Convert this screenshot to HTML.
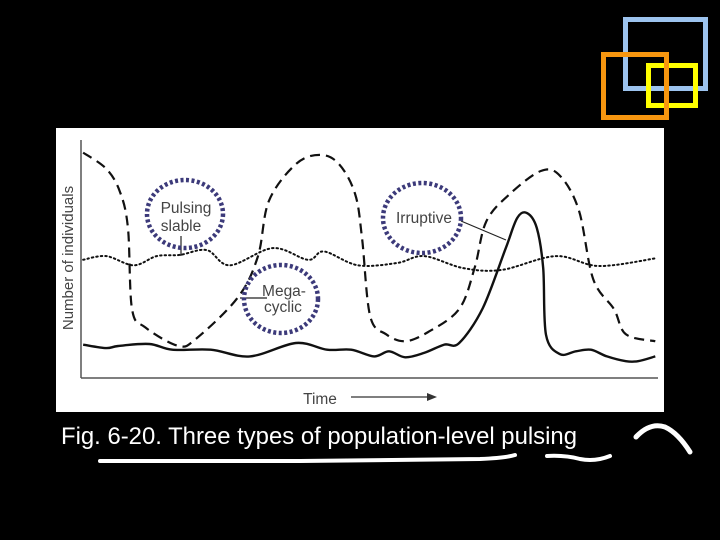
<!DOCTYPE html>
<html><head><meta charset="utf-8"><style>
html,body{margin:0;padding:0;background:#000;width:720px;height:540px;overflow:hidden}
svg{display:block}
</style></head><body>
<svg width="720" height="540" viewBox="0 0 720 540" xmlns="http://www.w3.org/2000/svg">
<rect x="0" y="0" width="720" height="540" fill="#000"/>
<g>
<rect x="625.5" y="19.5" width="80" height="69" fill="none" stroke="#9cc3ee" stroke-width="5"/>
<rect x="648.5" y="65.5" width="47" height="40" fill="none" stroke="#ffff00" stroke-width="5"/>
<rect x="603.5" y="54.5" width="63" height="63" fill="none" stroke="#f7960f" stroke-width="5"/>
</g>
<rect x="56" y="128" width="608" height="284" fill="#fff"/>
<g id="chart"></g>
<text x="61" y="444" font-family="Liberation Sans, sans-serif" font-size="23.8" fill="#fff" textLength="516" lengthAdjust="spacingAndGlyphs">Fig. 6-20. Three types of population-level pulsing</text>
<g fill="none" stroke="#fff" stroke-linecap="round">
<path d="M100,461 L300,461 L480,459 Q505,458 515,455" stroke-width="4"/>
<path d="M547,456 Q565,455 580,459 Q595,462 610,456" stroke-width="4"/>
<path d="M636,437 Q650,422 665,427 Q678,433 690,452" stroke-width="5"/>
</g>
</svg>
<script>
const dashedT=[0.2,4.2,6.6,8,8.7,11,16.7,19.8,27.1,30.6,32.5,37.2,41.4,44.7,47.5,48.7,50.1,52.9,56.2,60.2,65.6,68.3,70.3,74.4,79.8,83.1,86.4,88.9,92.5,94.6,99.7];
const dashedV=[98,91,81,65,30,22,14,17,35,53,77,93,97,93,80,61,27,19,16,20,30,48,68,80,90,88,73,43,30,19,16];
const dottedT=[0.2,4.2,9.0,13.0,17.0,21.7,25.7,33.2,39.3,42.1,48.0,54.8,59.5,66.3,73.0,82.4,89.9,99.7];
const dottedV=[51.4,53,49,53,53.5,55.6,49,56.5,51.4,55,49,50,53,47.8,47,53,48.7,52];
const solidT=[0.2,4.2,6.3,11.7,15.7,22.4,29.2,37.2,42.6,46.8,50.8,53.4,56.2,59.5,63,65.6,69.7,73.7,75.7,77.4,79.1,80.2,80.7,83.1,85.9,88.5,91.3,94.6,96.7,99.7];
const solidV=[14.5,13,13.9,14.8,12.3,12.3,9.4,15.2,12.3,12.3,9.4,11.6,9,10.9,14.5,15.2,30.4,56.5,69.6,71.7,65.2,47.8,18.8,10.4,11.6,12.3,9.4,7.3,7.3,9.4];
const X=t=>82+t*5.75, Y=v=>378-v*2.3;
const NS='http://www.w3.org/2000/svg';
const g=document.getElementById('chart');
function mk(tag,attrs){const e=document.createElementNS(NS,tag);for(const k in attrs)e.setAttribute(k,attrs[k]);g.appendChild(e);return e;}
function smooth(T,V){const p=T.map((t,i)=>[X(t),Y(V[i])]);let d='M'+p[0][0]+','+p[0][1];
for(let i=0;i<p.length-1;i++){const p0=p[i-1]||p[i],p1=p[i],p2=p[i+1],p3=p[i+2]||p2;
const c1=[p1[0]+(p2[0]-p0[0])/6,p1[1]+(p2[1]-p0[1])/6],c2=[p2[0]-(p3[0]-p1[0])/6,p2[1]-(p3[1]-p1[1])/6];
d+=` C${c1[0].toFixed(1)},${c1[1].toFixed(1)} ${c2[0].toFixed(1)},${c2[1].toFixed(1)} ${p2[0].toFixed(1)},${p2[1].toFixed(1)}`;}return d;}
let e;
e=mk('line',{x1:81,y1:140,x2:81,y2:378,stroke:'#555','stroke-width':1.5});


e=mk('line',{x1:81,y1:378,x2:658,y2:378,stroke:'#555','stroke-width':1.5});


e=mk('path',{d:smooth(dottedT,dottedV),fill:'none',stroke:'#111','stroke-width':2,'stroke-dasharray':'1.5 3','stroke-linecap':'round'});


e=mk('path',{d:smooth(dashedT,dashedV),fill:'none',stroke:'#111','stroke-width':2.2,'stroke-dasharray':'10 6'});


e=mk('path',{d:smooth(solidT,solidV),fill:'none',stroke:'#111','stroke-width':2.4});


const lines=[[181,236,181,256,'pulsing-pointer'],[461,221,506,240,'irruptive-pointer'],[240,298,267,298,'megacyclic-pointer']];
lines.forEach(l=>{e=mk('line',{x1:l[0],y1:l[1],x2:l[2],y2:l[3],stroke:'#222','stroke-width':1.2});

});
const circles=[[185,214,38,34,'pulsing-circle'],[422,218,39,35,'irruptive-circle'],[281,299,37,34,'megacyclic-circle']];
circles.forEach(c=>{e=mk('ellipse',{cx:c[0],cy:c[1],rx:c[2],ry:c[3],fill:'none',stroke:'#3c3a7a','stroke-width':4.5,'stroke-dasharray':'3 2.5'});

});
const labels=[['Pulsing',186,213,'pulsing-label'],['slable',181,231,'slable-label'],['Irruptive',424,223,'irruptive-label'],['Mega-',284,296,'mega-label'],['cyclic',283,312,'cyclic-label'],['Time',320,404,'x-axis-title']];
labels.forEach(l=>{e=mk('text',{x:l[1],y:l[2],'text-anchor':'middle','font-family':'Liberation Sans, sans-serif','font-size':15.5,fill:'#444'});e.textContent=l[0];

});
e=mk('text',{x:0,y:0,transform:'translate(73,258) rotate(-90)','text-anchor':'middle','font-family':'Liberation Sans, sans-serif','font-size':15,fill:'#444'});e.textContent='Number of individuals';


e=mk('line',{x1:351,y1:397,x2:428,y2:397,stroke:'#333','stroke-width':1.3});


e=mk('path',{d:'M427,393 L437,397 L427,401 Z',fill:'#333'});


</script>
</body></html>
